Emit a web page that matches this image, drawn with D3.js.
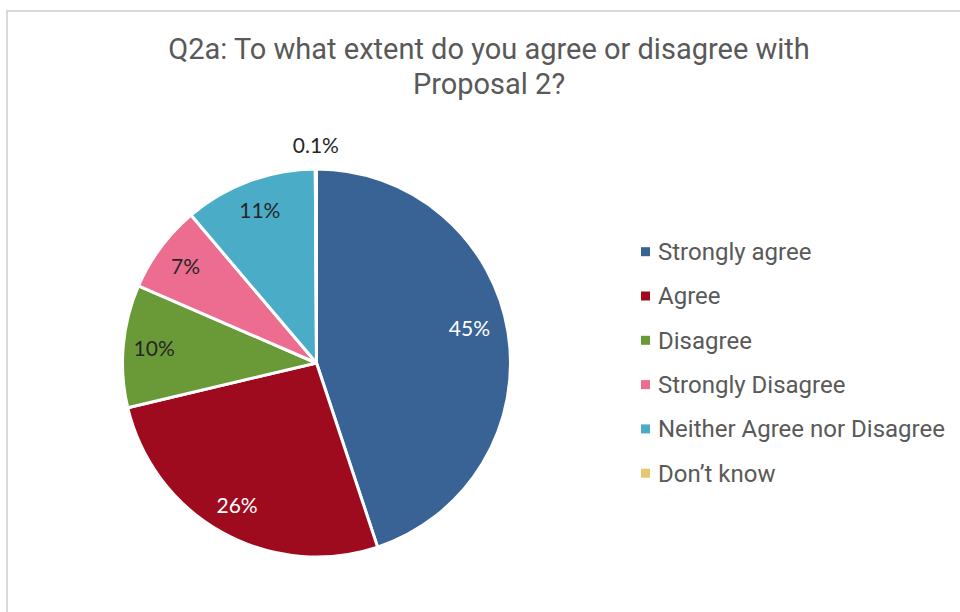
<!DOCTYPE html>
<html><head><meta charset="utf-8">
<script src="https://cdn.jsdelivr.net/npm/d3@7/dist/d3.min.js"></script>
<style>body{margin:0;background:#fff;}svg{display:block;}</style>
</head><body><svg id="c" width="960" height="612"></svg>
<script>
const categories = ["Strongly agree","Agree","Disagree","Strongly Disagree","Neither Agree nor Disagree","Don\u2019t know"];
const values = [44.9, 26.4, 10.2, 7.3, 11.1, 0.1];
const labels = ["45%","26%","10%","7%","11%","0.1%"];
const colors = ["#386394","#9E0B1E","#6A9A38","#EC6D8F","#4AACC6","#E6C86E"];
const labelColors = ["#ffffff","#ffffff","#262626","#262626","#262626","#262626"];
const titleLines = ["Q2a: To what extent do you agree or disagree with","Proposal 2?"];

const svg = d3.select("#c");
svg.append("rect").attr("x",7).attr("y",11).attr("width",1000).attr("height",700)
  .attr("fill","none").attr("stroke","#d9d9d9").attr("stroke-width",2);

svg.append("g").selectAll("text").data(titleLines).join("text")
  .attr("x",489).attr("y",(d,i)=>58.5+i*35.3).attr("text-anchor","middle")
  .attr("font-family","Roboto").attr("font-size",29).attr("fill","#595959").text(d=>d);

const cx=316.5, cy=363, R=194;
const data = categories.map((c,i)=>({c,v:values[i],l:labels[i],col:colors[i],lc:labelColors[i]}));
const pie = d3.pie().value(d=>d.v).sort(null);
const arc = d3.arc().innerRadius(0).outerRadius(R);
const arcs = pie(data);
const g = svg.append("g").attr("transform",`translate(${cx},${cy})`);
g.selectAll("path").data(arcs).join("path").attr("d",arc)
  .attr("fill",d=>d.data.col).attr("stroke","#fff").attr("stroke-width",3).attr("stroke-linejoin","round");

const lab = d3.arc().innerRadius(R*0.84).outerRadius(R*0.84);
const labOut = d3.arc().innerRadius(R*1.12).outerRadius(R*1.12);
g.selectAll("text").data(arcs).join("text")
  .attr("transform",(d,i)=>{const p=(d.data.v<1?labOut:lab).centroid(d);
     if(i===0){p[0]-=8;p[1]-=9;}
     return `translate(${p[0]},${p[1]})`;})
  .attr("text-anchor","middle").attr("dy","0.36em")
  .attr("font-family","Lato").attr("font-size",21).attr("fill",d=>d.data.lc).text(d=>d.data.l);

const leg = svg.append("g").selectAll("g").data(data).join("g")
  .attr("transform",(d,i)=>`translate(641,${251.7+i*44.3})`);
leg.append("rect").attr("x",0).attr("y",-4.5).attr("width",9).attr("height",9).attr("fill",d=>d.col);
leg.append("text").attr("x",17).attr("y",0).attr("dy","0.35em")
  .attr("font-family","Roboto").attr("font-size",24).attr("fill","#595959").text(d=>d.c);
</script></body></html>
